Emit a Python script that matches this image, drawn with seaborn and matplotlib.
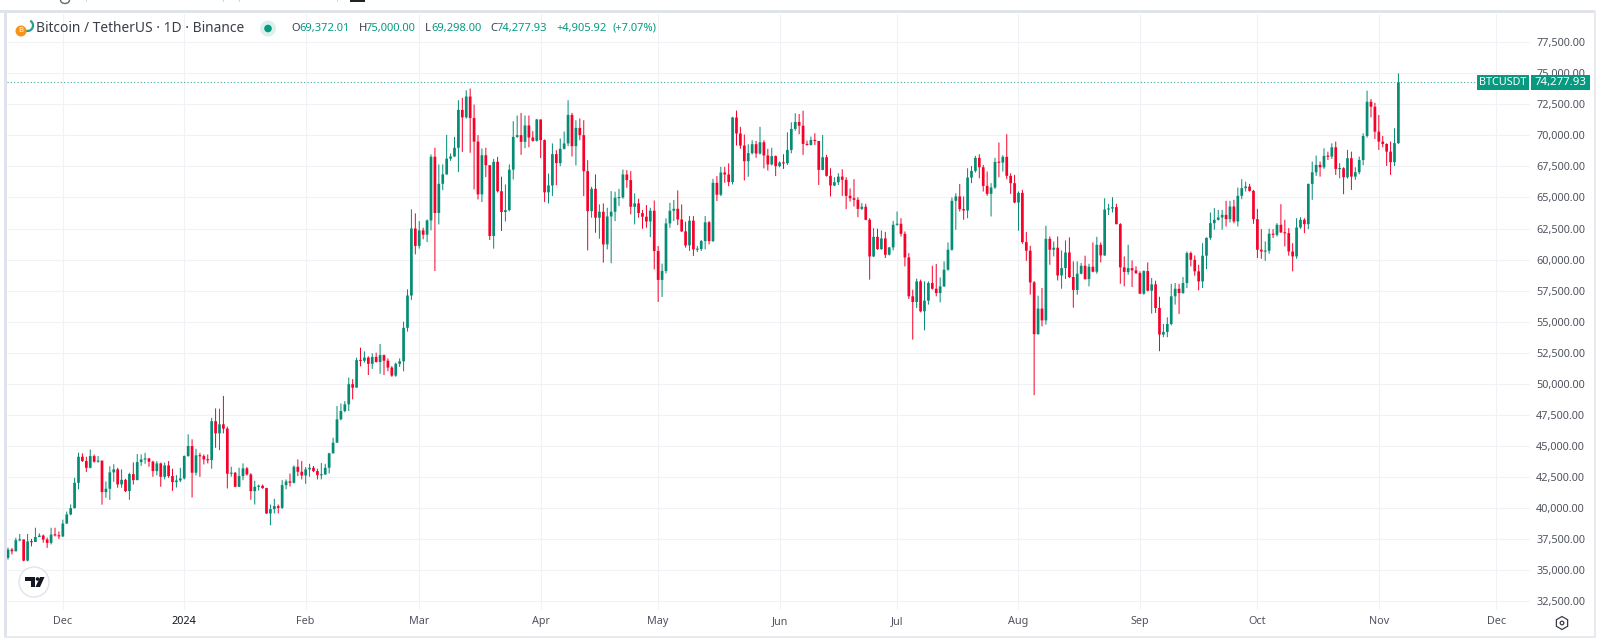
import matplotlib
matplotlib.use("Agg")
import matplotlib.pyplot as plt
from matplotlib.patches import Rectangle, Circle, RegularPolygon, Polygon, Arc
import pandas as pd
import seaborn as sns

first_open = 35970
closes = [
 36640,36500,37400,37450,35750,37300,37250,37650,37770,37450,
 37180,37850,37800,37700,38740,39470,39980,42020,44120,43770,
 43230,44170,43720,43800,41270,41540,42860,43100,41890,42260,
 41350,42720,42240,43690,43900,43980,43720,42960,43580,42500,
 43420,42560,42070,42210,42370,44170,44980,42830,44230,44170,
 43900,43850,46980,46000,46730,46380,42750,42830,41700,42560,
 43180,42690,41350,41700,41780,41590,39550,39900,40140,40000,
 41830,42130,42020,43310,42910,42610,43100,43230,42960,42640,
 42690,43230,44390,45250,47130,47800,48340,49960,49680,51900,
 51850,52100,51600,52150,51750,52300,51850,51300,50650,51600,
 51800,54500,57100,62500,61100,62350,62000,63150,68280,63750,
 66100,66860,68130,68300,69000,72050,71450,73130,71400,69500,
 65250,68400,67600,61900,67870,65500,63830,63980,67240,69880,
 70020,69480,70800,69830,69560,71280,69620,65410,65970,68490,
 67770,68920,69350,71650,69130,70600,70020,67120,63900,65700,
 63370,63850,61220,63470,63850,64980,65000,66850,66400,64250,
 64520,63740,63450,63070,63930,60690,58360,59080,62910,63930,
 64090,63230,62270,61140,63130,60820,60850,61490,63000,61490,
 66180,65220,67010,66850,66240,71440,70150,69180,67920,68570,
 69290,68540,69450,68380,67660,68330,67520,67810,67760,68830,
 70520,71080,70780,69310,69230,69630,69550,67220,68240,66740,
 65960,66230,66680,66420,65130,64940,64810,64080,64250,63200,
 60250,61830,60840,61700,60390,60980,62800,62880,62070,60170,
 57040,56580,58240,55830,56690,58110,57650,57300,57840,59180,
 60790,64730,65080,64060,63950,66600,67140,68190,67430,65930,
 65290,65800,67860,67810,68270,66740,66150,64590,65370,61400,
 60710,58160,53990,56050,55100,61670,60790,60950,58720,59310,
 60570,58590,57550,58860,59500,58430,59420,59020,61190,60330,
 64030,64110,64220,62850,59370,59000,59310,59130,58910,57250,
 59070,57490,58000,56100,53960,54170,54810,57040,57650,57300,
 58110,60520,59980,59050,58240,60310,61750,62930,63200,63390,
 63600,63250,64270,63070,65130,65750,65880,65530,63250,60790,
 60650,60710,62080,61990,62800,62180,62130,60650,60250,62580,
 63200,62850,66090,67030,67620,67430,68350,68290,69040,67300,
 67350,66630,68160,66680,67030,68020,69950,72710,72310,70300,
 69500,69310,68690,67840,69372,74277.93]
highs = [
 36800,36770,37590,37900,37450,37900,37500,38400,37950,37850,
 37600,38400,38400,38100,39050,39700,40280,42420,44440,44390,
 44120,44700,44300,44170,43820,42130,43350,43510,43230,43100,
 42340,42830,43660,44330,44300,44430,44030,43800,43770,43640,
 43640,43770,43150,42640,43230,44220,45920,45520,44760,44440,
 44300,44300,47250,48010,47990,49015,46540,43310,42880,43230,
 43580,43290,42800,42180,41880,41880,41620,40270,40730,40270,
 42230,42290,42770,43420,43900,43770,43290,43550,43370,43150,
 43610,43550,44440,45650,48200,48400,48600,50500,50370,52100,
 52900,52600,52200,52450,52500,53200,52350,52040,51420,51700,
 52040,55000,57600,64040,63720,63100,62560,63230,68460,69000,
 67660,67660,70040,68540,69880,72830,73020,73630,73770,72480,
 70020,68940,69000,67580,68110,68270,66670,66050,67660,71140,
 71600,71810,71600,71600,70340,71330,71280,69670,66930,69350,
 68810,69750,70310,72830,71810,71220,71360,71220,68000,65860,
 66850,64440,64520,64170,65510,65460,65700,67250,67200,67120,
 65330,64900,63990,64390,64170,64760,61090,59670,63320,64570,
 64790,65570,64440,63050,63500,63500,61090,61570,63500,63100,
 66500,66720,67470,67470,67740,71490,72000,70690,70070,69290,
 69610,69560,70690,69610,68920,69000,68380,67900,68480,70250,
 71050,71780,71720,71990,69580,69900,70170,69550,70030,68430,
 67350,66630,66950,67270,66630,65720,66470,65020,64540,64490,
 63330,62530,62480,62340,62230,61000,63120,63870,63330,62260,
 60520,57570,58460,58380,58240,58240,59500,59640,58560,59850,
 61380,65000,65340,66090,65080,67350,67540,68350,68480,67620,
 67090,66150,68190,69420,68400,70090,66950,66820,65480,65610,
 62210,61110,58270,57090,57710,62720,61860,61460,61860,60730,
 61540,61780,59850,59850,59720,60310,59660,61380,61830,61380,
 64940,64490,65020,64490,62930,60250,61190,59930,59450,59050,
 59130,59770,58510,58300,57000,54810,55350,58050,58110,58050,
 58590,60650,60650,60330,59580,61320,61780,63790,64140,64000,
 64000,64730,64730,64810,65800,66470,66280,66100,65610,64080,
 62450,61460,62480,62450,62930,64460,63200,62530,61320,63330,
 63410,63330,66120,67890,68370,67890,68960,68690,69360,69500,
 67760,67430,68830,68690,67430,68290,70170,73600,72930,72630,
 71640,69950,69360,69500,70570,75000]
lows = [
 35830,36250,36510,37300,35700,35700,36900,37300,37650,37200,
 36780,37050,37700,37500,37650,38700,39400,39950,41500,43700,
 42900,43180,43640,43640,40260,40810,40640,42100,41620,41620,
 41270,40650,41880,42210,43380,43550,43310,42500,42610,41700,
 42290,42420,41370,41640,42070,42290,44120,40840,42610,42500,
 43500,43580,43150,44840,44650,46000,41560,42510,41670,41670,
 42230,42610,40650,40270,41400,41540,39520,38600,39550,39550,
 39920,41500,41720,41970,42560,42290,41940,42510,42880,42290,
 42290,42660,42770,44390,45250,47050,47700,47800,48740,49700,
 51400,51700,50700,51200,51700,50800,50700,51000,50560,50560,
 51350,51000,54200,56750,60420,60880,61630,61410,62350,59080,
 62830,65590,66830,67950,68270,67040,68670,71350,68600,65650,
 64840,64630,66640,61570,60880,65400,62300,63070,63880,66450,
 69800,68430,68970,69050,69500,69500,68170,64630,64520,65110,
 65990,67520,68860,69130,68300,67580,69610,65110,60740,63370,
 62160,61680,59750,60820,59700,63100,64310,64900,65780,63640,
 62830,63370,62480,62560,61810,59210,56590,56990,58890,62560,
 63100,62780,62220,60960,60690,60290,60610,60690,60820,61220,
 61410,64710,65110,66180,65910,66050,69180,68920,66370,66670,
 68460,68190,68460,67340,67170,67580,66720,67430,67300,67620,
 68560,70380,70090,68430,69180,69180,69230,66010,67190,66680,
 65080,65910,66010,65130,64060,64670,64270,63410,64000,63170,
 58380,60200,60790,60790,60120,60330,60730,62720,61860,59450,
 56820,53550,56100,55750,54300,56370,57570,57040,56550,57790,
 59100,60710,62400,63870,63200,63330,66150,67010,66550,65480,
 65130,63470,65690,66630,67090,66470,65290,64540,62320,61270,
 59900,57170,49080,53950,54620,54760,59580,60250,58320,57650,
 58430,58510,56130,57170,58810,58380,57840,58970,58860,59770,
 60300,63580,63790,62830,58050,57840,58780,57790,58830,57220,
 57170,57440,55650,55700,52620,53740,53740,54700,56370,55620,
 57250,57710,59450,58700,57520,57710,59230,61590,62400,63150,
 62400,62660,62990,62930,62660,64860,65480,65480,62880,60120,
 60060,59900,60470,61730,61860,62150,61060,60310,59050,60060,
 62480,62130,62450,64810,66740,66680,67300,68020,68100,66820,
 66550,65260,66520,65610,66420,66870,67600,69820,71450,69710,
 68830,69040,67540,66820,67540,69298]

month_pos = [14, 45, 76, 105, 136, 166, 197, 227, 258, 289, 319, 350, 380]
month_labels = ["Dec", "2024", "Feb", "Mar", "Apr", "May", "Jun", "Jul", "Aug", "Sep", "Oct", "Nov", "Dec"]
price_ticks = [32500 + 2500 * i for i in range(19)]
last_price = 74277.93

GREEN, RED, GRID, BAND = "#089981", "#f7002a", "#f0f2f6", "#e0e3eb"
CANDLE_GREEN = "#068c74"
TXT = "#50535e"

sns.set_theme(style="white")
plt.rcParams["font.family"] = ["Noto Sans", "DejaVu Sans"]

opens = [first_open] + closes[:-1]
assert len(closes) == len(highs) == len(lows), (len(closes), len(highs), len(lows))

wick_rows, body_rows = [], []
for i, (o, h, l, c) in enumerate(zip(opens, highs, lows, closes)):
    d = "up" if c >= o else "down"
    wick_rows += [(i, l, d), (i, h, d)]
    lo, hi = min(o, c), max(o, c)
    if hi - lo < 90:
        mid = (hi + lo) / 2
        lo, hi = mid - 45, mid + 45
    body_rows += [(i, lo, d), (i, hi, d)]
wicks = pd.DataFrame(wick_rows, columns=["n", "price", "dir"])
bodies = pd.DataFrame(body_rows, columns=["n", "price", "dir"])

fig = plt.figure(figsize=(16, 6.42), dpi=100, facecolor="white")
ax = fig.add_axes([7 / 1600, 1 - 610 / 642, 1523 / 1600, 596 / 642], facecolor="white")

pal = {"up": CANDLE_GREEN, "down": RED}
for df, lw in ((wicks, 0.72), (bodies, 1.95)):
    sns.lineplot(data=df, x="n", y="price", hue="dir", units="n", estimator=None,
                 palette=pal, linewidth=lw, legend=False, sort=False, ax=ax,
                 solid_capstyle="butt", snap=False, zorder=3)

ax.set_xlim(-0.255, 388.6)
ax.set_ylim(31774, 79776)
ax.set_xlabel("")
ax.set_ylabel("")
ax.plot([-0.255, 375], [last_price, last_price], color=GREEN, lw=0.8,
        ls=(0, (1, 2)), alpha=0.8, zorder=2)

ax.set_xticks(month_pos)
ax.set_xticklabels(month_labels)
ax.yaxis.tick_right()
ax.set_yticks(price_ticks)
ax.set_yticklabels([f"{v:,.2f}" for v in price_ticks])
ax.tick_params(axis="x", length=0, pad=4.5, labelsize=7.8, labelcolor=TXT)
ax.tick_params(axis="y", length=0, pad=4.5, labelsize=7.8, labelcolor=TXT)
ax.grid(True, color=GRID, lw=0.8, zorder=0)
ax.set_axisbelow(True)
for s in ax.spines.values():
    s.set_visible(False)
for lab in ax.get_xticklabels():
    if lab.get_text() == "2024":
        lab.set_color("#131722")
        lab.set_fontweight("semibold")

# window furniture, legend and badges, drawn in pixel coordinates
ov = fig.add_axes([0, 0, 1, 1], zorder=10)
ov.set_xlim(0, 1600)
ov.set_ylim(642, 0)
ov.axis("off")
ov.patch.set_alpha(0)

def rect(x0, y0, x1, y1, color):
    ov.add_patch(Rectangle((x0, y0), x1 - x0, y1 - y0, fc=color, ec="none"))

rect(0, 10, 1594, 13, BAND)
rect(4, 13, 7, 636, BAND)
rect(1594, 10, 1596, 636, "#e8eaf0")
rect(4, 636, 1596, 637.5, "#e8eaf0")
for x0, x1, c in ((86, 86.6, "#d5d7dd"), (223, 223.6, "#d5d7dd"), (239, 239.6, "#d5d7dd"),
                  (267.5, 268.3, "#2962ff"), (337, 337.6, "#d5d7dd"), (350, 365, "#222222")):
    rect(x0, 0, x1, 1.5, c)
ov.add_patch(Arc((65, 0), 9, 7, theta1=0, theta2=180, color="#666666", lw=1))

# symbol logo
ov.add_patch(Arc((27.5, 25.5), 11, 11, theta1=-60, theta2=170, color="#2a9d8f", lw=1.6))
ov.add_patch(Circle((21, 31), 5.5, fc="#f7931a", ec="none"))
ov.text(21, 31, "B", color="white", fontsize=5.5, ha="center", va="center", fontweight="bold")
ov.text(36, 28.5, "Bitcoin / TetherUS · 1D · Binance", color="#3a3e4a", fontsize=9.9,
        ha="left", va="center")
ov.add_patch(Circle((268, 28.5), 8, fc="#daf0ec", ec="none"))
ov.add_patch(Circle((268, 28.5), 3.8, fc=GREEN, ec="none"))

for x, s, c in ((291, "O", "#3a3e4a"), (299, "69,372.01", GREEN), (358.5, "H", "#3a3e4a"),
                (366, "75,000.00", GREEN), (425, "L", "#3a3e4a"), (431, "69,298.00", GREEN),
                (490, "C", "#3a3e4a"), (497, "74,277.93", GREEN), (556, "+4,905.92", GREEN),
                (612.5, "(+7.07%)", GREEN)):
    ov.text(x, 28.5, s, color=c, fontsize=8.0, ha="left", va="center")

# last price badges
rect(1477, 75, 1529, 90, GREEN)
rect(1531, 75, 1590, 90, GREEN)
ov.text(1503, 82.5, "BTCUSDT", color="white", fontsize=7.8, ha="center", va="center",
        fontweight="medium")
ov.text(1560.5, 82, "74,277.93", color="white", fontsize=8.2, ha="center", va="center",
        fontweight="bold")

# chart-library badge
ov.add_patch(Circle((34, 582), 15, fc="white", ec=BAND, lw=1))
ov.add_patch(Polygon([(25, 577), (35, 577), (35, 587), (30.5, 587), (30.5, 580.5), (25, 580.5)],
                     fc="#131722", ec="none"))
ov.add_patch(Circle((37.5, 579), 1.8, fc="#131722", ec="none"))
ov.add_patch(Polygon([(40, 577), (44.5, 577), (40, 587), (35.5, 587)], fc="#131722", ec="none"))

# settings icon
ov.add_patch(RegularPolygon((1562, 623), 6, radius=6.5, orientation=0, fc="none", ec="#3a3e4a", lw=0.9))
ov.add_patch(Circle((1562, 623), 1.8, fc="none", ec="#3a3e4a", lw=0.9))

fig.savefig("out.png", dpi=100, facecolor="white")
